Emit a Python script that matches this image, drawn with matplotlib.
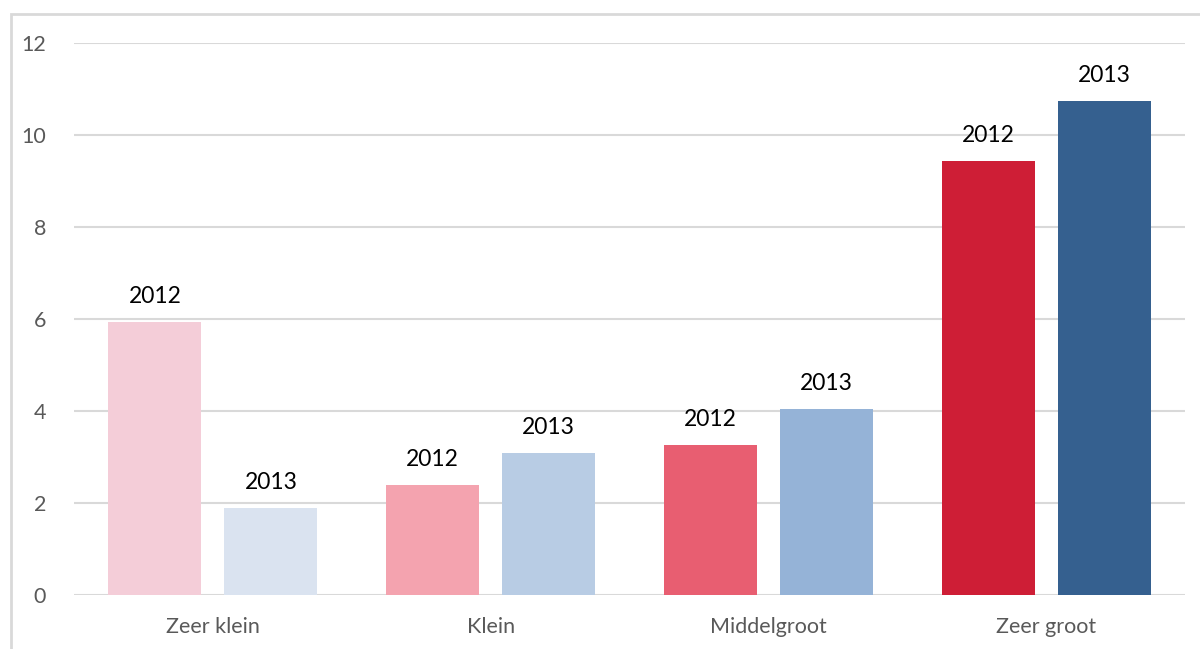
import numpy as np
import matplotlib.pyplot as plt
from matplotlib.patches import Rectangle

categories = ["Zeer klein", "Klein", "Middelgroot", "Zeer groot"]
years = ["2012", "2013"]
values_2012 = [5.93, 2.39, 3.26, 9.43]
values_2013 = [1.89, 3.09, 4.04, 10.74]
colors_2012 = ["#F4CDD8", "#F4A3AF", "#E85E71", "#CE1E36"]
colors_2013 = ["#DAE3F0", "#B8CCE4", "#95B3D7", "#35608F"]

plt.rcParams['font.family'] = ['Lato', 'DejaVu Sans']

fig = plt.figure(figsize=(12, 6.49), dpi=100)
fig.patches.append(Rectangle((10.5 / 1200, -0.5), 2, 1.5 - 13.5 / 649,
                             transform=fig.transFigure, fill=False,
                             edgecolor="#D9D9D9", linewidth=2))

ax = fig.add_axes([74 / 1200, 1 - 595 / 649, (1185 - 74) / 1200, (595 - 43) / 649])

x = np.arange(len(categories))
w = 0.335
gap = 0.083
off = (w + gap) / 2
b1 = ax.bar(x - off, values_2012, w, color=colors_2012, zorder=3)
b2 = ax.bar(x + off, values_2013, w, color=colors_2013, zorder=3)

for bars, yr in [(b1, years[0]), (b2, years[1])]:
    for b in bars:
        ax.annotate(yr, (b.get_x() + b.get_width() / 2, b.get_height()),
                    xytext=(0, 11), textcoords="offset points",
                    ha="center", va="bottom", fontsize=16.5, color="black")

ax.set_xlim(-0.5, len(categories) - 0.5)
ax.set_ylim(0, 12)
ax.set_yticks(range(0, 13, 2))
ax.set_xticks(x)
ax.set_xticklabels(categories)
ax.grid(axis="y", color="#D9D9D9", linewidth=1.5, zorder=0)
for s in ax.spines.values():
    s.set_visible(False)
ax.tick_params(axis="both", length=0, labelsize=15.5, colors="#595959")
ax.tick_params(axis="y", pad=20)
ax.tick_params(axis="x", pad=16)

fig.savefig("out.png", dpi=100)
